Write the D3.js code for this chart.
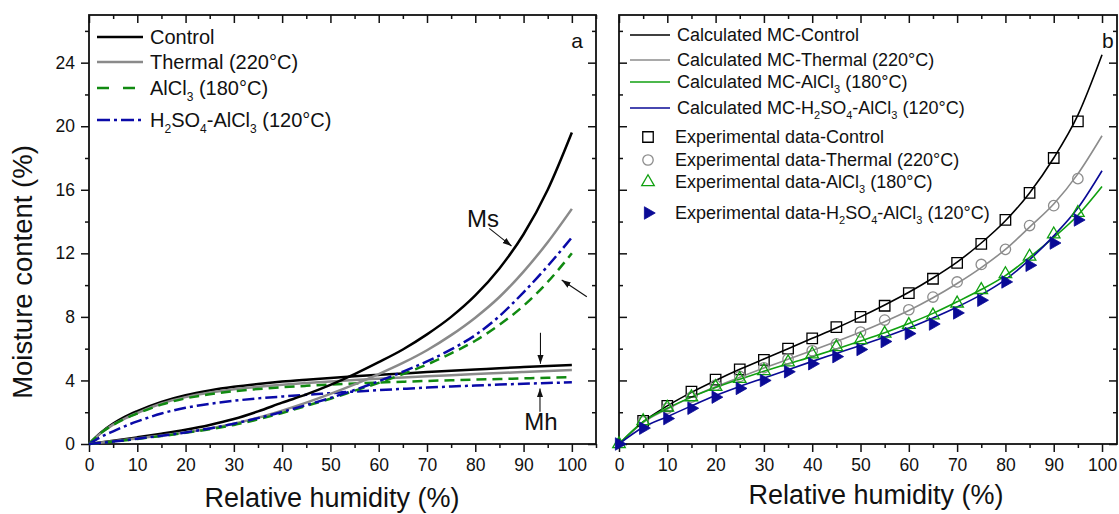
<!DOCTYPE html>
<html>
<head>
<meta charset="utf-8">
<script src="https://cdn.jsdelivr.net/npm/d3@7"></script>
<style>
  body { margin: 0; background: #fff; }
  svg text { font-family: "Liberation Sans", Arial, Helvetica, sans-serif; fill: #111; }
</style>
</head>
<body>
<div id="container"></div>
<script>
/* CONSTANTS AND GLOBALS */
const width = 1119,
  height = 514

/* DATA */
// relative humidity grids (%)
const rhFine = [0, 2.5, 5, 7.5, 10, 15, 20, 25, 30, 35, 40, 45, 50, 55, 60, 65, 70, 75, 80, 85, 90, 95, 100]
const rhStep = [0, 5, 10, 15, 20, 25, 30, 35, 40, 45, 50, 55, 60, 65, 70, 75, 80, 85, 90, 95, 100]
const rhExp = [0, 5, 10, 15, 20, 25, 30, 35, 40, 45, 50, 55, 60, 65, 70, 75, 80, 85, 90, 95]

const xTicks = [0, 10, 20, 30, 40, 50, 60, 70, 80, 90, 100]
const yTicks = [0, 4, 8, 12, 16, 20, 24]

// panel a: Ms (on rhStep) and Mh (on rhFine)
const msControl = [0, 0.2, 0.42, 0.65, 0.9, 1.2, 1.57, 2.05, 2.6, 3.12, 3.72, 4.4, 5.15, 5.95, 6.9, 8.0, 9.35, 11.05, 13.2, 16.0, 19.6]
const msThermal = [0, 0.17, 0.35, 0.53, 0.74, 0.98, 1.28, 1.65, 2.1, 2.6, 3.15, 3.75, 4.4, 5.1, 5.9, 6.85, 7.95, 9.25, 10.85, 12.7, 14.8]
const msAlcl3 = [0, 0.15, 0.32, 0.5, 0.7, 0.93, 1.2, 1.55, 1.95, 2.4, 2.85, 3.35, 3.85, 4.4, 5.0, 5.7, 6.5, 7.5, 8.7, 10.2, 12.0]
const msH2so4 = [0, 0.15, 0.33, 0.52, 0.73, 0.98, 1.28, 1.63, 2.02, 2.45, 2.9, 3.4, 3.95, 4.55, 5.2, 5.95, 6.85, 8.05, 9.55, 11.2, 13.0]

const mhControl = [0, 0.72, 1.28, 1.72, 2.07, 2.65, 3.07, 3.37, 3.6, 3.78, 3.93, 4.05, 4.16, 4.26, 4.35, 4.44, 4.53, 4.61, 4.69, 4.77, 4.84, 4.91, 4.97]
const mhThermal = [0, 0.7, 1.22, 1.62, 1.95, 2.55, 2.95, 3.24, 3.45, 3.6, 3.73, 3.84, 3.94, 4.03, 4.11, 4.19, 4.26, 4.33, 4.4, 4.47, 4.53, 4.59, 4.65]
const mhAlcl3 = [0, 0.7, 1.2, 1.6, 1.92, 2.48, 2.87, 3.13, 3.32, 3.46, 3.57, 3.66, 3.74, 3.81, 3.87, 3.92, 3.97, 4.01, 4.05, 4.09, 4.13, 4.17, 4.2]
const mhH2so4 = [0, 0.45, 0.8, 1.13, 1.42, 1.92, 2.28, 2.53, 2.72, 2.87, 2.99, 3.1, 3.2, 3.3, 3.39, 3.47, 3.55, 3.62, 3.68, 3.74, 3.79, 3.84, 3.88]

// panel b: calculated MC (on rhStep) and experimental data (on rhExp, null = no point)
const calcControl = [0, 1.4, 2.4, 3.25, 4.0, 4.7, 5.35, 6.0, 6.65, 7.3, 8.0, 8.75, 9.55, 10.45, 11.45, 12.65, 14.05, 15.8, 18.0, 20.7, 24.5]
const calcThermal = [0, 1.35, 2.2, 2.95, 3.6, 4.2, 4.78, 5.33, 5.88, 6.45, 7.05, 7.7, 8.4, 9.2, 10.1, 11.1, 12.25, 13.65, 15.1, 17.0, 19.4]
const calcAlcl3 = [0, 1.4, 2.25, 2.95, 3.55, 4.08, 4.58, 5.05, 5.5, 5.98, 6.48, 7.0, 7.58, 8.22, 8.95, 9.72, 10.6, 11.75, 13.0, 14.4, 16.2]
const calcH2so4 = [0, 1.05, 1.72, 2.4, 3.05, 3.62, 4.15, 4.68, 5.2, 5.7, 6.2, 6.73, 7.3, 7.93, 8.62, 9.4, 10.35, 11.6, 13.1, 14.85, 17.2]

const expControl = [null, 1.45, 2.4, 3.3, 4.05, 4.7, 5.3, 6.0, 6.65, 7.35, 8.0, 8.7, 9.5, 10.4, 11.4, 12.6, 14.1, 15.8, 18.0, 20.3]
const expThermal = [null, 1.4, 2.25, 2.95, 3.7, 4.25, 4.8, 5.35, 5.87, 6.3, 7.05, 7.8, 8.45, 9.25, 10.2, 11.3, 12.25, 13.75, 15.0, 16.7]
const expAlcl3 = [0, 1.45, 2.3, 2.95, 3.6, 4.1, 4.6, 5.15, 5.65, 6.1, 6.55, 6.95, 7.5, 8.1, 8.85, 9.7, 10.7, 11.8, 13.2, 14.55]
const expH2so4 = [0, 1.0, 1.6, 2.25, 2.95, 3.5, 4.0, 4.55, 5.05, 5.5, 5.95, 6.45, 6.95, 7.55, 8.25, 9.05, 10.2, 11.25, 12.65, 14.1]

// legend labels ("_3" = subscript 3)
const labelsA = ['Control', 'Thermal (220°C)', 'AlCl_3 (180°C)', 'H_2SO_4-AlCl_3 (120°C)']
const labelsCalc = ['Calculated MC-Control', 'Calculated MC-Thermal (220°C)', 'Calculated MC-AlCl_3 (180°C)', 'Calculated MC-H_2SO_4-AlCl_3 (120°C)']
const labelsExp = ['Experimental data-Control', 'Experimental data-Thermal (220°C)', 'Experimental data-AlCl_3 (180°C)', 'Experimental data-H_2SO_4-AlCl_3 (120°C)']

/* STYLES */
const colorsA = ['#000000', '#8a8a8a', '#118a11', '#0a0aa8']
const dashesA = [null, null, '10,6', '12,4,3,4']
const colorsB = ['#000000', '#8c8c8c', '#10a010', '#0a0a96']

/* SVG */
const svg = d3.select('#container')
  .append('svg')
  .attr('width', width)
  .attr('height', height)

// scales
const xA = d3.scaleLinear().domain([0, 105]).range([89, 596])
const xB = d3.scaleLinear().domain([0, 103.1]).range([619, 1117])
const yS = d3.scaleLinear().domain([0, 27]).range([444, 15])

// text with "_n" subscripts
function richText(sel, str, size) {
  const parts = str.split(/_(\d)/)
  let down = false
  const shift = Math.round(size * 0.3)
  parts.forEach((p, i) => {
    if (p === '') return
    const t = sel.append('tspan').text(p)
    if (i % 2 === 1) {
      t.attr('font-size', Math.round(size * 0.62)).attr('dy', down ? 0 : shift)
      down = true
    } else {
      if (down) t.attr('dy', -shift)
      down = false
    }
  })
}

function drawFrame(x, showYLabels) {
  const g = svg.append('g')
  const minorX = [5, 15, 25, 35, 45, 55, 65, 75, 85, 95].concat(x.domain()[1] > 104 ? [105] : [])
  const minorY = [2, 6, 10, 14, 18, 22, 26]
  const [x0, x1] = x.range()
  const [y0, y1] = yS.range()

  // bottom
  g.append('g').attr('transform', `translate(0,${y0})`)
    .call(d3.axisBottom(x).tickValues(xTicks).tickSize(8).tickPadding(7).tickFormat(d3.format('d')))
  g.append('g').attr('transform', `translate(0,${y0})`)
    .call(d3.axisBottom(x).tickValues(minorX).tickSize(4).tickFormat(''))
  // top (inward)
  g.append('g').attr('transform', `translate(0,${y1})`)
    .call(d3.axisTop(x).tickValues(xTicks).tickSize(-8).tickFormat(''))
  g.append('g').attr('transform', `translate(0,${y1})`)
    .call(d3.axisTop(x).tickValues(minorX).tickSize(-4).tickFormat(''))
  // left
  g.append('g').attr('transform', `translate(${x0},0)`)
    .call(d3.axisLeft(yS).tickValues(yTicks).tickSize(showYLabels ? 8 : -8).tickPadding(6)
      .tickFormat(showYLabels ? d3.format('d') : ''))
  g.append('g').attr('transform', `translate(${x0},0)`)
    .call(d3.axisLeft(yS).tickValues(minorY).tickSize(showYLabels ? 4 : -4).tickFormat(''))
  // right (inward)
  g.append('g').attr('transform', `translate(${x1},0)`)
    .call(d3.axisRight(yS).tickValues(yTicks).tickSize(-8).tickFormat(''))
  g.append('g').attr('transform', `translate(${x1},0)`)
    .call(d3.axisRight(yS).tickValues(minorY).tickSize(-4).tickFormat(''))

  g.selectAll('.domain').remove()
  g.selectAll('.tick line').attr('stroke', '#111').attr('stroke-width', 1.5)
  g.selectAll('.tick text')
    .style('font-family', '"Liberation Sans", Arial, sans-serif')
    .style('font-size', '17.5px')
    .attr('fill', '#111')

  g.append('rect')
    .attr('x', x0).attr('y', y1)
    .attr('width', x1 - x0).attr('height', y0 - y1)
    .attr('fill', 'none')
    .attr('stroke', '#111')
    .attr('stroke-width', 1.8)
}

/* PANEL A */
drawFrame(xA, true)

const lineA = (xs) => d3.line()
  .x((d, i) => xA(xs[i]))
  .y(d => yS(d))
  .curve(d3.curveMonotoneX)

const msSeries = [msControl, msThermal, msAlcl3, msH2so4]
const mhSeries = [mhControl, mhThermal, mhAlcl3, mhH2so4]

const gA = svg.append('g')
mhSeries.forEach((s, i) => {
  gA.append('path')
    .attr('d', lineA(rhFine)(s))
    .attr('fill', 'none')
    .attr('stroke', colorsA[i])
    .attr('stroke-width', 2.5)
    .attr('stroke-dasharray', dashesA[i])
})
msSeries.forEach((s, i) => {
  gA.append('path')
    .attr('d', lineA(rhStep)(s))
    .attr('fill', 'none')
    .attr('stroke', colorsA[i])
    .attr('stroke-width', 2.5)
    .attr('stroke-dasharray', dashesA[i])
})

// legend a
const legendAY = [37, 62, 88, 120]
labelsA.forEach((lab, i) => {
  svg.append('line')
    .attr('x1', 97).attr('x2', 143)
    .attr('y1', legendAY[i]).attr('y2', legendAY[i])
    .attr('stroke', colorsA[i])
    .attr('stroke-width', 2.5)
    .attr('stroke-dasharray', i === 2 ? '12,14' : i === 3 ? '13,4,3,4' : null)
  const t = svg.append('text')
    .attr('x', 150).attr('y', legendAY[i] + 7)
    .style('font-size', '20px')
  richText(t, lab, 20)
})

// annotations (in data units)
const defs = svg.append('defs')
defs.append('marker')
  .attr('id', 'arrow')
  .attr('viewBox', '0 0 10 10')
  .attr('refX', 10).attr('refY', 5)
  .attr('markerWidth', 9).attr('markerHeight', 9)
  .attr('markerUnits', 'userSpaceOnUse')
  .attr('orient', 'auto')
  .append('path')
  .attr('d', 'M0,1.5 L10,5 L0,8.5 Z')
  .attr('fill', '#111')

const arrowsA = [
  { from: [82.9, 13.57], to: [87.5, 12.46] },
  { from: [103.1, 9.27], to: [97.9, 10.32] },
  { from: [93.5, 7.0], to: [93.5, 5.05] },
  { from: [93.4, 2.03], to: [93.4, 3.5] }
]
arrowsA.forEach(a => {
  svg.append('line')
    .attr('x1', xA(a.from[0])).attr('y1', yS(a.from[1]))
    .attr('x2', xA(a.to[0])).attr('y2', yS(a.to[1]))
    .attr('stroke', '#111')
    .attr('stroke-width', 1.1)
    .attr('marker-end', 'url(#arrow)')
})
svg.append('text')
  .attr('x', xA(78.3)).attr('y', yS(13.65))
  .style('font-size', '24px')
  .text('Ms')
svg.append('text')
  .attr('x', xA(93.6)).attr('y', yS(0.85))
  .attr('text-anchor', 'middle')
  .style('font-size', '24px')
  .text('Mh')

svg.append('text')
  .attr('x', 577).attr('y', 48)
  .attr('text-anchor', 'middle')
  .style('font-size', '21px')
  .text('a')

/* PANEL B */
drawFrame(xB, false)

const lineB = d3.line()
  .x((d, i) => xB(rhStep[i]))
  .y(d => yS(d))
  .curve(d3.curveMonotoneX)

const calcSeries = [calcControl, calcThermal, calcAlcl3, calcH2so4]
const expSeries = [expControl, expThermal, expAlcl3, expH2so4]

const gB = svg.append('g')
calcSeries.forEach((s, i) => {
  gB.append('path')
    .attr('d', lineB(s))
    .attr('fill', 'none')
    .attr('stroke', colorsB[i])
    .attr('stroke-width', 1.6)
})

const symbols = [
  { type: d3.symbolSquare, size: 110, rot: 0, filled: false },
  { type: d3.symbolCircle, size: 85, rot: 0, filled: false },
  { type: d3.symbolTriangle, size: 68, rot: 0, filled: false },
  { type: d3.symbolTriangle, size: 68, rot: 90, filled: true }
]

function drawSymbol(g, k, cx, cy) {
  const s = symbols[k]
  g.append('path')
    .attr('d', d3.symbol().type(s.type).size(s.size)())
    .attr('transform', `translate(${cx},${cy}) rotate(${s.rot})`)
    .attr('fill', s.filled ? colorsB[k] : 'none')
    .attr('stroke', colorsB[k])
    .attr('stroke-width', s.filled ? 0.8 : 1.3)
}

expSeries.forEach((s, k) => {
  s.forEach((v, i) => {
    if (v !== null) drawSymbol(gB, k, xB(rhExp[i]), yS(v))
  })
})

// legend b
const legendCalcY = [35, 60, 82, 108]
const legendExpY = [137, 160, 182, 213]
labelsCalc.forEach((lab, i) => {
  svg.append('line')
    .attr('x1', 630).attr('x2', 670)
    .attr('y1', legendCalcY[i]).attr('y2', legendCalcY[i])
    .attr('stroke', colorsB[i])
    .attr('stroke-width', 1.6)
  const t = svg.append('text')
    .attr('x', 677).attr('y', legendCalcY[i] + 6)
    .style('font-size', '18px')
  richText(t, lab, 18)
})
labelsExp.forEach((lab, i) => {
  drawSymbol(svg, i, 648, legendExpY[i])
  const t = svg.append('text')
    .attr('x', 675).attr('y', legendExpY[i] + 6)
    .style('font-size', '18px')
  richText(t, lab, 18)
})

svg.append('text')
  .attr('x', 1102).attr('y', 48)
  .style('font-size', '21px')
  .text('b')

/* AXIS TITLES */
svg.append('text')
  .attr('transform', 'translate(32, 272) rotate(-90)')
  .attr('text-anchor', 'middle')
  .style('font-size', '27.5px')
  .text('Moisture content (%)')

svg.append('text')
  .attr('x', 332).attr('y', 507)
  .attr('text-anchor', 'middle')
  .style('font-size', '27px')
  .text('Relative humidity (%)')

svg.append('text')
  .attr('x', 876).attr('y', 504)
  .attr('text-anchor', 'middle')
  .style('font-size', '27px')
  .text('Relative humidity (%)')
</script>
</body>
</html>
